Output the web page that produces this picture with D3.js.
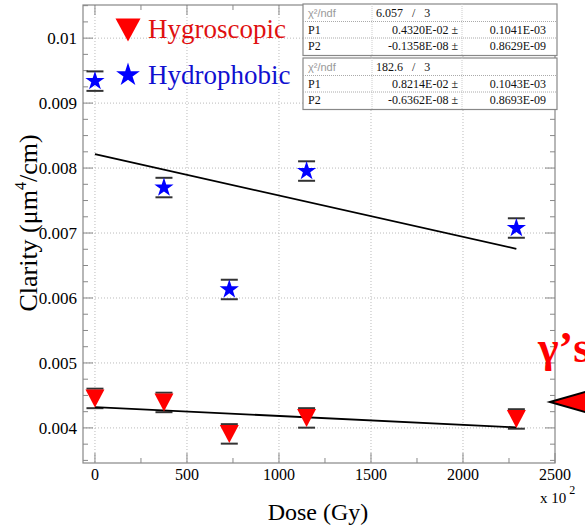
<!DOCTYPE html>
<html><head><meta charset="utf-8">
<script src="https://cdn.jsdelivr.net/npm/d3@7"></script>
<style>body{margin:0;background:#fff}svg{display:block}</style>
</head><body>
<script>
const doses = [0, 375, 730, 1150, 2290];
const hygroscopic = [0.004454, 0.004392, 0.003908, 0.004154, 0.004138];
const hydrophobic = [0.009338, 0.007700, 0.006131, 0.007954, 0.007077];
const hygroErr = [0.00015, 0.00015, 0.00015, 0.00015, 0.00015];
const hydroErr = [0.00015, 0.00015, 0.00015, 0.00015, 0.00015];
const fitHygro = {p1: 0.4320e-2, p2: -0.1358e-8};
const fitHydro = {p1: 0.8214e-2, p2: -0.6362e-8};
const xTicks = [0, 500, 1000, 1500, 2000, 2500];
const yTicks = [0.004, 0.005, 0.006, 0.007, 0.008, 0.009, 0.01];
const yTickLabels = ["0.004", "0.005", "0.006", "0.007", "0.008", "0.009", "0.01"];
const statRows1 = [["χ²/ndf", "6.057   /   3", ""], ["P1", "0.4320E-02 ±", "0.1041E-03"], ["P2", "-0.1358E-08 ±", "0.8629E-09"]];
const statRows2 = [["χ²/ndf", "182.6   /   3", ""], ["P1", "0.8214E-02 ±", "0.1043E-03"], ["P2", "-0.6362E-08 ±", "0.8693E-09"]];
const legendLabels = ["Hygroscopic", "Hydrophobic"];

const W = 585, H = 525;
const svg = d3.select("body").append("svg").attr("width", W).attr("height", H);
const L = 83, R = 555, T = 5, B = 463;
const x = d3.scaleLinear().domain([-65, 2500]).range([L, R]);
const y = d3.scaleLinear().domain([0.00346, 0.01051]).range([B, T]);
const serif = "'Liberation Serif', 'Times New Roman', serif";

// grid
const g = svg.append("g");
g.selectAll(".gx").data(xTicks.slice(0, 5)).enter().append("line")
  .attr("x1", d => x(d)).attr("x2", d => x(d)).attr("y1", T).attr("y2", B)
  .attr("stroke", "#bbb").attr("stroke-dasharray", "1,2");
g.selectAll(".gy").data(yTicks).enter().append("line")
  .attr("x1", L).attr("x2", R).attr("y1", d => y(d)).attr("y2", d => y(d))
  .attr("stroke", "#bbb").attr("stroke-dasharray", "1,2");

// frame
svg.append("rect").attr("x", L).attr("y", T).attr("width", R - L).attr("height", B - T)
  .attr("fill", "none").attr("stroke", "#888").attr("stroke-width", 1.2);

// ticks (inward, all four sides)
const xMinor = d3.range(0, 2501, 250);
const yMinor = d3.range(0.0035, 0.01051, 0.00025);
const tk = svg.append("g").attr("stroke", "#888").attr("stroke-width", 1);
xMinor.forEach(v => {
  const len = (v % 500 === 0) ? 10 : 5;
  tk.append("line").attr("x1", x(v)).attr("x2", x(v)).attr("y1", B).attr("y2", B - len);
  tk.append("line").attr("x1", x(v)).attr("x2", x(v)).attr("y1", T).attr("y2", T + len);
});
yMinor.forEach(v => {
  const major = Math.abs(Math.round(v * 1000) / 1000 - v) < 1e-7;
  const len = major ? 10 : 5;
  tk.append("line").attr("x1", L).attr("x2", L + len).attr("y1", y(v)).attr("y2", y(v));
  tk.append("line").attr("x1", R).attr("x2", R - len).attr("y1", y(v)).attr("y2", y(v));
});

// axis labels
svg.selectAll(".xl").data(xTicks).enter().append("text")
  .attr("x", d => x(d)).attr("y", 480).attr("text-anchor", "middle")
  .attr("font-family", serif).attr("font-size", 16).text(d => d);
svg.selectAll(".yl").data(yTicks).enter().append("text")
  .attr("x", 77).attr("y", d => y(d) + 6).attr("text-anchor", "end")
  .attr("font-family", serif).attr("font-size", 17).text((d, i) => yTickLabels[i]);
const xm = svg.append("text").attr("x", 540).attr("y", 503).attr("font-family", serif).attr("font-size", 15);
xm.append("tspan").text("x 10");
xm.append("tspan").attr("dx", 3).attr("dy", -9).attr("font-size", 12).text("2");

svg.append("text").attr("x", 318).attr("y", 520).attr("text-anchor", "middle")
  .attr("font-family", serif).attr("font-size", 24).text("Dose (Gy)");
const yt = svg.append("text").attr("transform", "translate(37,223) rotate(-90)")
  .attr("text-anchor", "middle").attr("font-family", serif).attr("font-size", 26);
yt.append("tspan").text("Clarity (μm");
yt.append("tspan").attr("dy", -11).attr("font-size", 16).text("4");
yt.append("tspan").attr("dy", 11).text("/cm)");

// fit lines
function fitLine(f) {
  const xs = [doses[0], doses[doses.length - 1]];
  svg.append("line").attr("x1", x(xs[0])).attr("y1", y(f.p1 + f.p2 * xs[0] * 100))
    .attr("x2", x(xs[1])).attr("y2", y(f.p1 + f.p2 * xs[1] * 100))
    .attr("stroke", "#000").attr("stroke-width", 1.8);
}

// error bars
function errBars(vals, errs) {
  const eg = svg.append("g").attr("stroke", "#333").attr("stroke-width", 2);
  vals.forEach((v, i) => {
    [v - errs[i], v + errs[i]].forEach(e => {
      eg.append("line").attr("x1", x(doses[i]) - 8.5).attr("x2", x(doses[i]) + 8.5)
        .attr("y1", y(e)).attr("y2", y(e));
    });
  });
}
function triPath(h, w) {
  return `M${-w / 2},${-h / 2}L${w / 2},${-h / 2}L0,${h / 2}Z`;
}
const starSym = s => d3.symbol(d3.symbolStar, s)();

errBars(hydrophobic, hydroErr);
errBars(hygroscopic, hygroErr);
fitLine(fitHydro);
fitLine(fitHygro);

svg.selectAll(".st").data(hydrophobic).enter().append("path")
  .attr("transform", (d, i) => `translate(${x(doses[i])},${y(d)})`)
  .attr("d", starSym(115)).attr("fill", "#0000ff");
svg.selectAll(".tr").data(hygroscopic).enter().append("path")
  .attr("transform", (d, i) => `translate(${x(doses[i])},${y(d)})`)
  .attr("d", triPath(18, 19)).attr("fill", "#ff0000");

// legend
svg.append("path").attr("transform", "translate(128,30)").attr("d", triPath(23, 25)).attr("fill", "#ff0000");
svg.append("path").attr("transform", "translate(128,75)").attr("d", starSym(175)).attr("fill", "#0000ff");
svg.append("text").attr("x", 148).attr("y", 38).attr("font-family", serif).attr("font-size", 27)
  .attr("fill", "#e01010").text(legendLabels[0]);
svg.append("text").attr("x", 148).attr("y", 84).attr("font-family", serif).attr("font-size", 27)
  .attr("fill", "#1010d0").text(legendLabels[1]);

// stat boxes
function statBox(top, rows) {
  const bx = 303, bw = 254, rh = 16.5;
  const sg = svg.append("g");
  sg.append("rect").attr("x", bx).attr("y", top).attr("width", bw).attr("height", rh * 3 + 2)
    .attr("fill", "#fff").attr("stroke", "#888").attr("stroke-width", 1.2);
  [372, 462].forEach(cx => sg.append("line").attr("x1", cx).attr("x2", cx)
    .attr("y1", top).attr("y2", top + rh * 3 + 2).attr("stroke", "#ccc").attr("stroke-dasharray", "1,1"));
  [1, 2].forEach(r => sg.append("line").attr("x1", bx).attr("x2", bx + bw)
    .attr("y1", top + rh * r + 1).attr("y2", top + rh * r + 1).attr("stroke", "#aaa").attr("stroke-dasharray", "1,1"));
  rows.forEach((row, r) => {
    const by = top + rh * r + 13;
    sg.append("text").attr("x", 308).attr("y", by)
      .attr("font-family", r === 0 ? "'Liberation Sans', sans-serif" : serif)
      .attr("font-size", r === 0 ? 11 : 12).attr("fill", r === 0 ? "#999" : "#111").text(row[0]);
    sg.append("text").attr("x", r === 0 ? 376 : 458).attr("y", by)
      .attr("text-anchor", r === 0 ? "start" : "end")
      .attr("font-family", serif).attr("font-size", 12).attr("fill", "#111").attr("xml:space", "preserve")
      .style("white-space", "pre").text(row[1]);
    sg.append("text").attr("x", 546).attr("y", by).attr("text-anchor", "end")
      .attr("font-family", serif).attr("font-size", 12).attr("fill", "#111").text(row[2]);
  });
}
statBox(4, statRows1);
statBox(58, statRows2);

// annotation (cut off at the right edge, as in the reference)
svg.append("text").attr("x", 538).attr("y", 362).attr("font-family", serif).attr("font-weight", "bold")
  .attr("font-size", 44).attr("fill", "#ff0000").text("γ’s");
svg.append("path").attr("d", "M550,402L592,390L592,414Z").attr("fill", "#ff0000")
  .attr("stroke", "#000").attr("stroke-width", 2);
</script>
</body></html>
